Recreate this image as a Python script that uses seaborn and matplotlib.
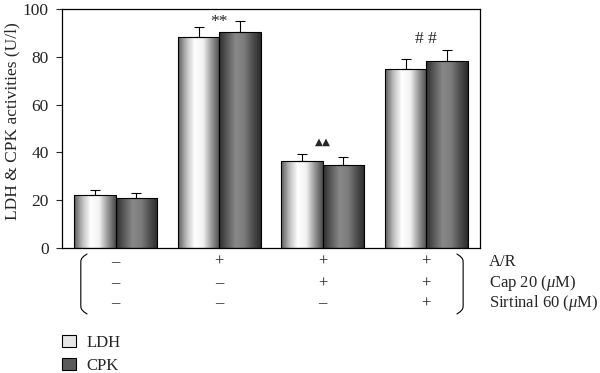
import matplotlib
matplotlib.use("Agg")
import matplotlib.pyplot as plt
import numpy as np
import pandas as pd
import seaborn as sns
from matplotlib.colors import LinearSegmentedColormap
from matplotlib.patches import Patch

groups = ["Control", "A/R", "A/R + Cap", "A/R + Cap + Sirtinal"]
enzymes = ["LDH", "CPK"]
ldh = [22.2, 88.4, 36.4, 74.9]
ldh_err = [2.1, 4.2, 2.9, 4.1]
cpk = [20.8, 90.4, 34.9, 78.2]
cpk_err = [2.3, 4.6, 3.0, 4.6]
marks = ["", "**", "\u25b2\u25b2", "# #"]
mark_y = [0, 94.5, 44.5, 87.5]
row_labels = ["A/R", r"Cap 20 ($\mathit{\mu}$M)", r"Sirtinal 60 ($\mathit{\mu}$M)"]
row_signs = [["\u2013", "+", "+", "+"],
             ["\u2013", "\u2013", "+", "+"],
             ["\u2013", "\u2013", "\u2013", "+"]]

df = pd.DataFrame({
    "group": groups * 2,
    "enzyme": ["LDH"] * 4 + ["CPK"] * 4,
    "value": ldh + cpk,
})
errs = {"LDH": ldh_err, "CPK": cpk_err}

ldh_cmap = LinearSegmentedColormap.from_list(
    "ldh", ["#5a5a5a", "#bdbdbd", "#ffffff", "#f2f2f2", "#9a9a9a", "#4a4a4a"])
cpk_cmap = LinearSegmentedColormap.from_list(
    "cpk", ["#2e2e2e", "#5c5c5c", "#888888", "#7c7c7c", "#505050", "#2a2a2a"])
cmaps = {"LDH": ldh_cmap, "CPK": cpk_cmap}

sns.set_style("ticks")
plt.rcParams["font.family"] = ["Liberation Serif", "DejaVu Sans"]
plt.rcParams["mathtext.fontset"] = "custom"
plt.rcParams["mathtext.it"] = "Liberation Serif:italic"
plt.rcParams["mathtext.rm"] = "Liberation Serif"

fig = plt.figure(figsize=(6, 3.73), dpi=100)
ax = fig.add_axes([0.1033, 0.3351, 0.6967, 0.6408])

sns.barplot(data=df, x="group", y="value", hue="enzyme", hue_order=enzymes,
            errorbar=None, width=0.8, legend=False, ax=ax,
            palette=["#dddddd", "#555555"])

grad = np.linspace(0, 1, 256).reshape(1, -1)
for enz, cont in zip(enzymes, ax.containers):
    centers = []
    tops = []
    for bar in cont:
        x0, w, h = bar.get_x(), bar.get_width(), bar.get_height()
        bar.set_facecolor("none")
        bar.set_edgecolor("black")
        bar.set_linewidth(0.8)
        bar.set_zorder(3)
        im = ax.imshow(grad, cmap=cmaps[enz], aspect="auto",
                       extent=(x0, x0 + w, 0, h), zorder=2.5,
                       interpolation="bilinear")
        im.set_clip_path(bar)
        centers.append(x0 + w / 2)
        tops.append(h)
    ax.errorbar(centers, tops, yerr=[np.zeros(4), errs[enz]], fmt="none",
                ecolor="black", elinewidth=0.8, capsize=3.5, capthick=0.8,
                zorder=4)

for i, (m, yv) in enumerate(zip(marks, mark_y)):
    if not m:
        continue
    if "\u25b2" in m:
        ax.text(i, yv, m, ha="center", va="center", fontsize=7.5,
                family="DejaVu Sans")
    else:
        ax.text(i, yv, m, ha="center", va="center", fontsize=12.5)

ax.set_xlim(-0.52, 3.52)
ax.set_ylim(0, 100)
ax.set_yticks([0, 20, 40, 60, 80, 100])
ax.set_xticks([])
ax.set_xlabel("")
ax.set_ylabel("LDH & CPK activities (U/l)", fontsize=12.5)
ax.yaxis.set_label_coords(-0.1, 0.53)
ax.tick_params(axis="y", labelsize=12.5, direction="out", length=4.5,
               width=0.8, pad=5)
for s in ax.spines.values():
    s.set_visible(True)
    s.set_linewidth(0.9)
    s.set_color("black")

# treatment table under the axis
trans = ax.get_xaxis_transform()
row_y = [-0.057, -0.148, -0.232]
for r, (lab, ry) in enumerate(zip(row_labels, row_y)):
    for c in range(len(groups)):
        ax.text(c, ry, row_signs[r][c], ha="center", va="center",
                fontsize=12, transform=trans, clip_on=False)
    ax.text(3.61, ry, lab, ha="left", va="center", fontsize=12,
            transform=trans, clip_on=False)

# brackets around the table
top_b, bot_b = -0.025, -0.276
for xb, d in [(-0.338, 0.06), (3.357, -0.06)]:
    t = np.linspace(0, 1, 30)
    ys = top_b + (bot_b - top_b) * t
    curl = np.where(t < 0.12, (1 - t / 0.12) ** 2, 0) + np.where(t > 0.88, ((t - 0.88) / 0.12) ** 2, 0)
    xs = xb + d * curl
    ax.plot(xs, ys, color="black", lw=0.8, transform=trans, clip_on=False)

handles = [Patch(facecolor="#e6e6e6", edgecolor="black", linewidth=0.8),
           Patch(facecolor="#5a5a5a", edgecolor="black", linewidth=0.8)]
fig.legend(handles, enzymes, loc="upper left", bbox_to_anchor=(0.09, 0.125),
           frameon=False, fontsize=12, handlelength=0.8, handleheight=0.8,
           handletextpad=0.65, labelspacing=0.4, borderpad=0)

fig.savefig("out.png", dpi=100)
